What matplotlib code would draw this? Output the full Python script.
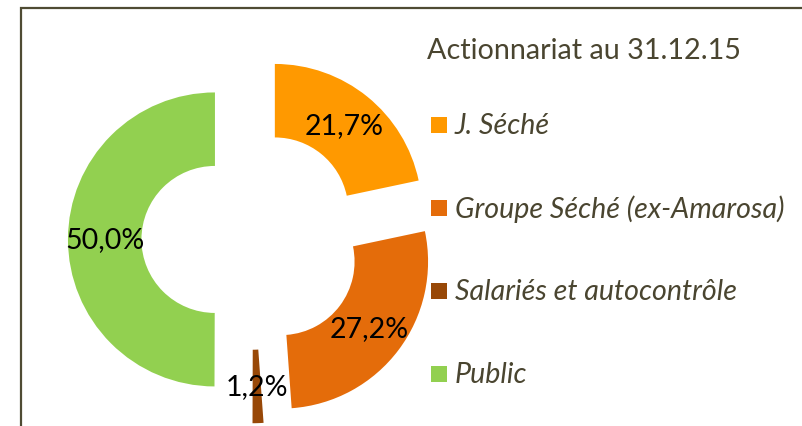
import matplotlib
matplotlib.use('Agg')
import matplotlib.pyplot as plt
from matplotlib.patches import Rectangle

plt.rcParams['font.family'] = ['Lato', 'DejaVu Sans']

# données
labels = ['J. Séché', 'Groupe Séché (ex-Amarosa)', 'Salariés et autocontrôle', 'Public']
values = [21.7, 27.2, 1.2, 50.0]
colors = ['#FF9900', '#E46C0A', '#984807', '#92D050']
title = 'Actionnariat au 31.12.15'

W, H = 803, 427
fig = plt.figure(figsize=(W / 100, H / 100), dpi=100)
fig.patch.set_facecolor('white')

# axe plein cadre, 1 unité = 147 px, centre du donut en (251.7, 240.5) px
R = 147.0
cx, cy = 251.7, 240.5
ax = fig.add_axes([0, 0, 1, 1])

wedges, texts, autotexts = ax.pie(
    values, colors=colors, startangle=90, counterclock=False,
    explode=[0.25] * len(values), radius=1,
    wedgeprops=dict(width=0.5, linewidth=0),
    autopct='%1.1f%%', pctdistance=0.75,
    textprops=dict(fontsize=20.5, color='black'))
for t, v in zip(autotexts, values):
    t.set_text(f'{v:.1f}%'.replace('.', ','))

# pie() règle ses propres limites : on les remet après
ax.set_aspect('auto')
ax.set_xlim(-cx / R, (W - cx) / R)
ax.set_ylim((cy - H) / R, cy / R)
ax.axis('off')

# cadre (coupé à droite et en bas)
def fx(px):
    return px / W

def fy(py):
    return 1 - py / H

fig.add_artist(Rectangle((fx(21.5), fy(440)), fx(820) - fx(21.5), fy(9) - fy(440),
                         transform=fig.transFigure, fill=False,
                         edgecolor='#4F4B33', linewidth=1.6, clip_on=False))

txt_col = '#4A4530'
fig.text(fx(427), fy(59), title, fontsize=20.7, color=txt_col, va='baseline', ha='left')

# légende
rows = [125.5, 209, 292, 375]
for y, lab, col in zip(rows, labels, colors):
    fig.add_artist(Rectangle((fx(431), fy(y + 8)), 16 / W, 16 / H,
                             transform=fig.transFigure, facecolor=col, edgecolor='none'))
    fig.text(fx(455), fy(y), lab, fontsize=20.6, style='italic', color=txt_col,
             va='center', ha='left')

fig.savefig('out.png', dpi=100)
